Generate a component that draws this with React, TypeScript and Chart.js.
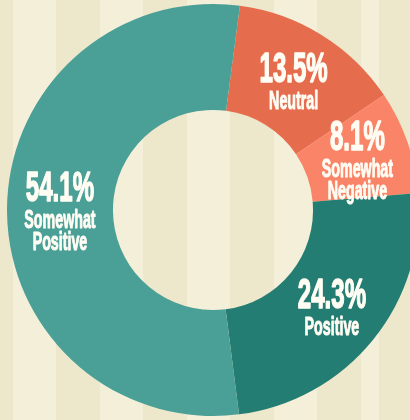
import React, { useEffect, useRef } from "react";
import { Chart, registerables } from "chart.js";

Chart.register(...registerables);

const categories = ["Neutral", "Somewhat Negative", "Positive", "Somewhat Positive"];
const values = [13.5, 8.1, 24.3, 54.1];
const labelLines = [["Neutral"], ["Somewhat", "Negative"], ["Positive"], ["Somewhat", "Positive"]];
const colors = ["#e66c4e", "#fa8467", "#237d72", "#4a9f97"];

const labelPlugin = {
  id: "sliceLabels",
  afterDatasetsDraw(chart: any) {
    const ctx = chart.ctx as CanvasRenderingContext2D;
    const meta = chart.getDatasetMeta(0);
    meta.data.forEach((arc: any, i: number) => {
      const p = arc.getCenterPoint();
      const lines = labelLines[i];
      const numTop = -31;
      const lastBase = 27 + (lines.length - 1) * 22;
      const y0 = p.y - (numTop + lastBase) / 2;
      ctx.save();
      ctx.fillStyle = "#fffdf4";
      ctx.strokeStyle = "#fffdf4";
      ctx.lineJoin = "round";
      ctx.textAlign = "center";
      ctx.textBaseline = "alphabetic";
      ctx.translate(p.x, y0);
      ctx.save();
      ctx.scale(0.56, 1);
      ctx.font = "bold 43px 'Liberation Sans', Arial, sans-serif";
      ctx.lineWidth = 1.6;
      const num = values[i].toFixed(1) + "%";
      ctx.fillText(num, 0, 0);
      ctx.strokeText(num, 0, 0);
      ctx.restore();
      ctx.save();
      ctx.scale(0.57, 1);
      ctx.font = "bold 25px 'Liberation Sans', Arial, sans-serif";
      ctx.lineWidth = 1;
      lines.forEach((t, j) => {
        ctx.fillText(t, 0, 27 + j * 22);
        ctx.strokeText(t, 0, 27 + j * 22);
      });
      ctx.restore();
      ctx.restore();
    });
  },
};

export default function App() {
  const ref = useRef<HTMLCanvasElement | null>(null);
  useEffect(() => {
    if (!ref.current) return;
    const chart = new Chart(ref.current, {
      type: "doughnut",
      data: {
        labels: categories,
        datasets: [
          {
            data: values,
            backgroundColor: colors,
            borderWidth: 0,
          },
        ],
      },
      options: {
        responsive: false,
        animation: false,
        rotation: 7.5,
        radius: 206,
        cutout: 102,
        layout: { padding: 0 },
        plugins: {
          legend: { display: false },
          tooltip: { enabled: false },
        },
      } as any,
      plugins: [labelPlugin],
    });
    return () => chart.destroy();
  }, []);

  return (
    <div
      style={{
        position: "fixed",
        left: 0,
        top: 0,
        width: 410,
        height: 420,
        overflow: "hidden",
        background:
          "repeating-linear-gradient(90deg, #ede7cb 0px, #ede7cb 44px, #f4efd9 44px, #f4efd9 87px)",
        backgroundPosition: "-31px 0",
      }}
    >
      <canvas ref={ref} width={426} height={420} style={{ display: "block" }} />
    </div>
  );
}
